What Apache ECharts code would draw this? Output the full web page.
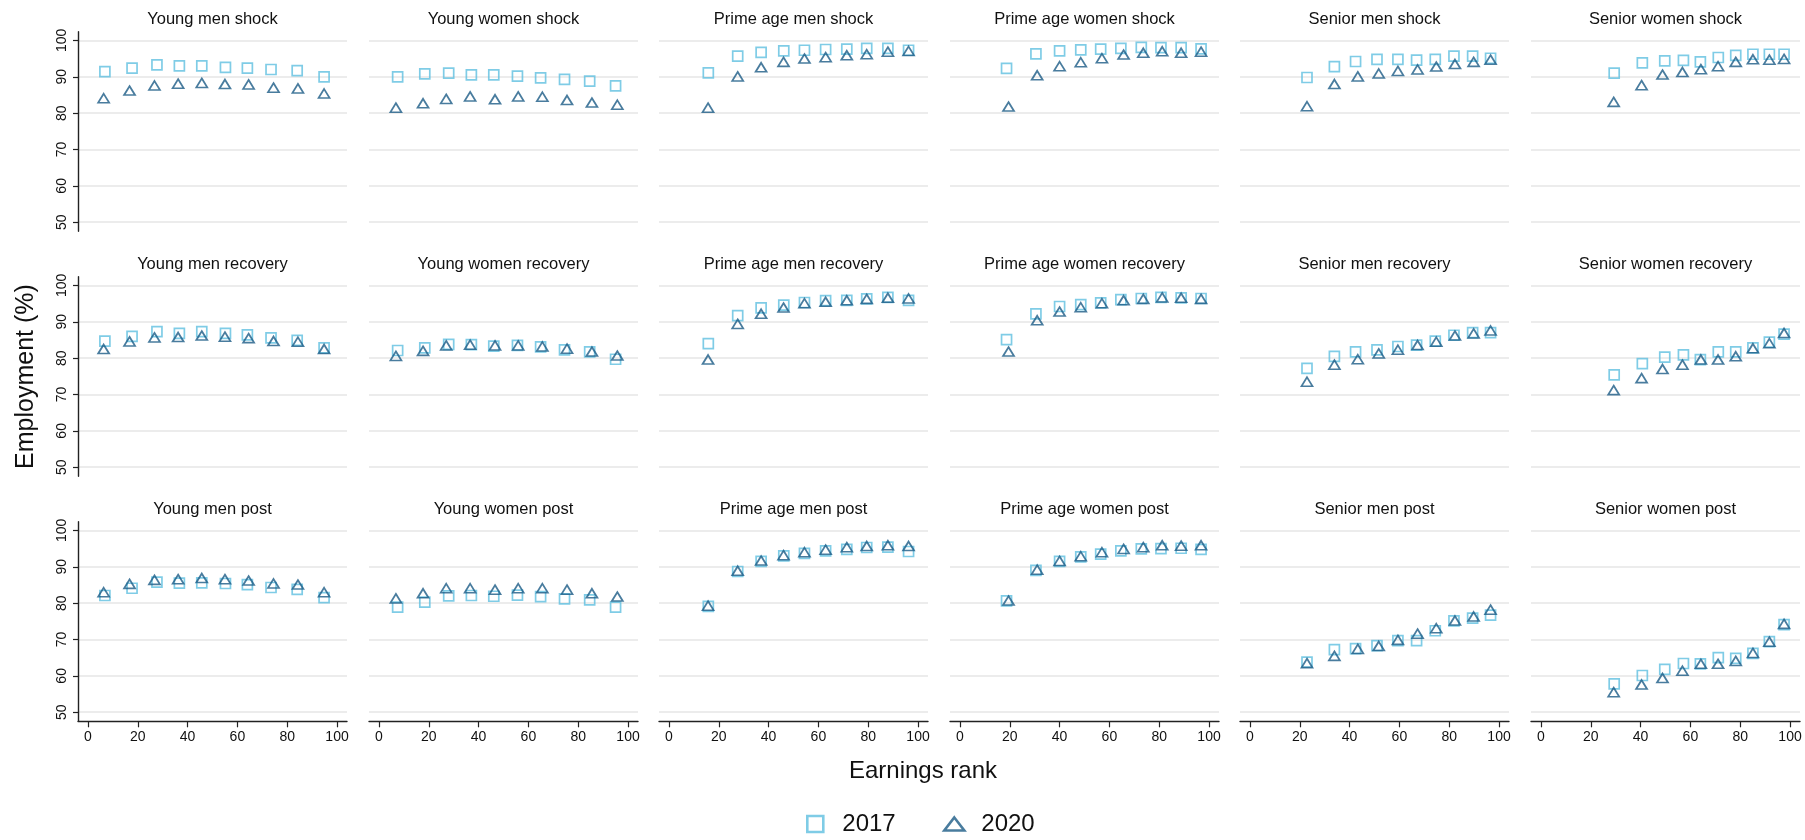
<!DOCTYPE html>
<html>
<head>
<meta charset="utf-8">
<title>Employment by earnings rank</title>
<script src="https://cdn.jsdelivr.net/npm/echarts@6/dist/echarts.min.js"></script>
<style>
  html, body { margin: 0; padding: 0; background: #ffffff; }
  #chart { width: 1805px; height: 840px; }
</style>
</head>
<body>
<div id="chart"></div>
<script>
// ---- Earnings rank (x) of each decile point, per group and year ----
const youngMenRank2017     = [6.8, 17.7, 27.7, 36.7, 45.7, 55.2, 64.0, 73.5, 84.0, 94.8];
const youngMenRank2020     = [6.3, 16.7, 26.7, 36.2, 45.7, 55.0, 64.5, 74.5, 84.3, 94.8];
const youngWomenRank2017   = [7.5, 18.4, 28.0, 37.1, 46.1, 55.6, 64.9, 74.5, 84.6, 95.0];
const youngWomenRank2020   = [6.8, 17.7, 27.0, 36.6, 46.6, 55.9, 65.6, 75.5, 85.5, 95.7];
const primeMenRank2017     = [15.8, 27.6, 37.0, 46.1, 54.4, 62.9, 71.4, 79.4, 87.9, 96.2];
const primeMenRank2020     = [15.7, 27.6, 37.0, 46.0, 54.4, 62.9, 71.4, 79.4, 87.9, 96.2];
const primeWomenRank2017   = [18.7, 30.5, 40.0, 48.5, 56.5, 64.6, 72.8, 80.7, 88.8, 96.8];
const primeWomenRank2020   = [19.5, 31.0, 40.0, 48.5, 57.0, 65.7, 73.6, 81.2, 88.8, 96.8];
const seniorMenRank2017    = [22.9, 33.9, 42.4, 51.0, 59.4, 66.9, 74.4, 81.9, 89.4, 96.6];
const seniorMenRank2020    = [22.9, 33.9, 43.3, 51.7, 59.4, 67.3, 74.8, 82.3, 89.8, 96.6];
const seniorWomenRank2017  = [29.4, 40.7, 49.7, 57.2, 64.0, 71.2, 78.2, 85.1, 91.7, 97.6];
const seniorWomenRank2020  = [29.2, 40.4, 48.8, 56.8, 64.2, 71.1, 78.2, 85.1, 91.7, 97.6];

// ---- Employment (%) : shock period ----
const youngMenShock2017    = [91.4, 92.4, 93.3, 93.0, 93.0, 92.6, 92.4, 92.0, 91.7, 90.0];
const youngMenShock2020    = [84.1, 86.2, 87.6, 88.1, 88.3, 88.0, 87.9, 87.0, 86.8, 85.4];
const youngWomenShock2017  = [90.0, 90.8, 91.0, 90.5, 90.5, 90.2, 89.7, 89.3, 88.8, 87.5];
const youngWomenShock2020  = [81.5, 82.7, 83.9, 84.6, 83.8, 84.6, 84.5, 83.6, 82.9, 82.3];
const primeMenShock2017    = [91.1, 95.7, 96.7, 97.1, 97.3, 97.5, 97.6, 97.8, 97.8, 97.3];
const primeMenShock2020    = [81.5, 90.1, 92.6, 94.1, 95.0, 95.4, 95.9, 96.2, 96.9, 97.1];
const primeWomenShock2017  = [92.3, 96.3, 97.1, 97.4, 97.6, 97.8, 98.1, 98.0, 98.0, 97.7];
const primeWomenShock2020  = [81.8, 90.4, 92.9, 94.0, 95.1, 96.1, 96.6, 97.0, 96.6, 96.9];
const seniorMenShock2017   = [89.8, 92.8, 94.2, 94.8, 94.8, 94.6, 94.8, 95.7, 95.7, 95.1];
const seniorMenShock2020   = [81.9, 88.0, 90.1, 90.9, 91.6, 92.0, 92.8, 93.5, 94.1, 94.7];
const seniorWomenShock2017 = [91.0, 93.8, 94.4, 94.5, 94.1, 95.3, 95.9, 96.2, 96.2, 96.2];
const seniorWomenShock2020 = [83.1, 87.7, 90.6, 91.3, 92.1, 92.9, 94.1, 94.8, 94.7, 94.9];

// ---- Employment (%) : recovery period ----
const youngMenRecovery2017    = [84.7, 86.0, 87.3, 86.8, 87.3, 86.8, 86.4, 85.6, 84.9, 82.8];
const youngMenRecovery2020    = [82.5, 84.6, 85.7, 85.8, 86.2, 85.9, 85.5, 84.7, 84.5, 82.5];
const youngWomenRecovery2017  = [82.1, 82.8, 83.8, 83.7, 83.3, 83.5, 83.1, 82.3, 81.7, 79.7];
const youngWomenRecovery2020  = [80.6, 82.0, 83.5, 83.7, 83.5, 83.5, 83.2, 82.6, 81.8, 80.7];
const primeMenRecovery2017    = [84.0, 91.7, 93.8, 94.6, 95.3, 95.8, 95.9, 96.3, 96.7, 95.9];
const primeMenRecovery2020    = [79.6, 89.4, 92.2, 93.9, 95.1, 95.5, 95.9, 96.3, 96.6, 96.4];
const primeWomenRecovery2017  = [85.1, 92.2, 94.2, 94.7, 95.2, 96.1, 96.4, 96.7, 96.6, 96.4];
const primeWomenRecovery2020  = [81.8, 90.4, 92.8, 94.0, 95.1, 95.9, 96.3, 96.7, 96.6, 96.3];
const seniorMenRecovery2017   = [77.2, 80.5, 81.7, 82.3, 83.2, 83.6, 84.7, 86.3, 87.0, 87.0];
const seniorMenRecovery2020   = [73.5, 78.2, 79.7, 81.3, 82.3, 83.6, 84.5, 86.2, 86.8, 87.6];
const seniorWomenRecovery2017 = [75.4, 78.5, 80.3, 80.9, 79.6, 81.7, 81.7, 82.8, 84.4, 86.6];
const seniorWomenRecovery2020 = [71.2, 74.5, 77.0, 78.2, 79.6, 79.6, 80.5, 82.7, 84.1, 86.9];

// ---- Employment (%) : post period ----
const youngMenPost2017    = [82.1, 84.1, 85.8, 85.5, 85.6, 85.4, 85.1, 84.3, 83.8, 81.5];
const youngMenPost2020    = [83.0, 85.3, 86.4, 86.6, 86.9, 86.6, 86.2, 85.4, 85.1, 83.0];
const youngWomenPost2017  = [78.9, 80.3, 82.0, 82.1, 81.9, 82.2, 81.8, 81.2, 80.9, 78.9];
const youngWomenPost2020  = [81.3, 82.7, 84.1, 84.1, 83.7, 84.1, 84.1, 83.7, 82.7, 81.8];
const primeMenPost2017    = [79.1, 88.7, 91.5, 93.0, 93.7, 94.4, 94.8, 95.3, 95.4, 94.2];
const primeMenPost2020    = [79.3, 88.9, 91.7, 93.2, 94.0, 94.7, 95.4, 95.7, 95.9, 95.7];
const primeWomenPost2017  = [80.6, 89.0, 91.5, 92.7, 93.5, 94.4, 94.9, 95.0, 95.1, 94.8];
const primeWomenPost2020  = [80.7, 89.2, 91.6, 92.9, 94.0, 94.9, 95.4, 95.9, 95.8, 95.9];
const seniorMenPost2017   = [63.8, 67.2, 67.5, 68.3, 69.7, 69.7, 72.4, 75.1, 75.9, 76.7];
const seniorMenPost2020   = [63.5, 65.5, 67.4, 68.2, 69.9, 71.6, 73.1, 75.2, 76.3, 78.2];
const seniorWomenPost2017 = [57.8, 60.1, 61.8, 63.4, 63.3, 65.0, 64.8, 66.2, 69.4, 74.1];
const seniorWomenPost2020 = [55.5, 57.6, 59.4, 61.4, 63.3, 63.3, 64.1, 66.3, 69.4, 74.3];

// ---- Labels and ticks ----
const groupNames  = ['Young men', 'Young women', 'Prime age men', 'Prime age women', 'Senior men', 'Senior women'];
const periodNames = ['shock', 'recovery', 'post'];
const yearNames   = ['2017', '2020'];
const xTickValues = [0, 20, 40, 60, 80, 100];
const yTickValues = [50, 60, 70, 80, 90, 100];
const xTitle = 'Earnings rank';
const yTitle = 'Employment (%)';

// Lookup tables assembled from the arrays above
const ranks = [
  [youngMenRank2017, youngMenRank2020],
  [youngWomenRank2017, youngWomenRank2020],
  [primeMenRank2017, primeMenRank2020],
  [primeWomenRank2017, primeWomenRank2020],
  [seniorMenRank2017, seniorMenRank2020],
  [seniorWomenRank2017, seniorWomenRank2020]
];
const values = [
  [ // shock
    [youngMenShock2017, youngMenShock2020], [youngWomenShock2017, youngWomenShock2020],
    [primeMenShock2017, primeMenShock2020], [primeWomenShock2017, primeWomenShock2020],
    [seniorMenShock2017, seniorMenShock2020], [seniorWomenShock2017, seniorWomenShock2020]
  ],
  [ // recovery
    [youngMenRecovery2017, youngMenRecovery2020], [youngWomenRecovery2017, youngWomenRecovery2020],
    [primeMenRecovery2017, primeMenRecovery2020], [primeWomenRecovery2017, primeWomenRecovery2020],
    [seniorMenRecovery2017, seniorMenRecovery2020], [seniorWomenRecovery2017, seniorWomenRecovery2020]
  ],
  [ // post
    [youngMenPost2017, youngMenPost2020], [youngWomenPost2017, youngWomenPost2020],
    [primeMenPost2017, primeMenPost2020], [primeWomenPost2017, primeWomenPost2020],
    [seniorMenPost2017, seniorMenPost2020], [seniorWomenPost2017, seniorWomenPost2020]
  ]
];

// ---- Styling / layout ----
const FONT = '"Liberation Sans", Arial, Helvetica, sans-serif';
const COLOR_2017 = '#5fbfe0';
const COLOR_2020 = '#1b5b86';
const INK = '#111111';
const AXIS_INK = '#222222';
const GRID_INK = '#e6e6e6';
const colLeft = [78, 369, 659, 950, 1240, 1531];
const rowTop = [31.7, 276.7, 521.7];
const panelW = 269;
const panelH = 199.6;
const X_MIN = -4, X_MAX = 104;
const Y_MIN = 47.5, Y_MAX = 102.4;

const grids = [], xAxes = [], yAxes = [], series = [], titles = [];

periodNames.forEach((period, r) => {
  groupNames.forEach((group, c) => {
    const idx = grids.length;
    const firstCol = c === 0;
    const lastRow = r === periodNames.length - 1;

    grids.push({ left: colLeft[c], top: rowTop[r], width: panelW, height: panelH, containLabel: false });

    xAxes.push({
      type: 'value', gridIndex: idx, min: X_MIN, max: X_MAX,
      axisLine: { show: lastRow, onZero: false, lineStyle: { color: AXIS_INK, width: 1.4 } },
      axisTick: { show: lastRow, length: 6, customValues: xTickValues, lineStyle: { color: AXIS_INK, width: 1.2 } },
      axisLabel: { show: lastRow, customValues: xTickValues, margin: 9, fontSize: 14, color: INK, fontFamily: FONT },
      splitLine: { show: false }
    });

    const yAxis = {
      type: 'value', gridIndex: idx, min: Y_MIN, max: Y_MAX,
      axisLine: { show: firstCol, onZero: false, lineStyle: { color: AXIS_INK, width: 1.4 } },
      axisTick: { show: firstCol, length: 5, customValues: yTickValues, lineStyle: { color: AXIS_INK, width: 1.2 } },
      axisLabel: { show: firstCol, customValues: yTickValues, rotate: 90, margin: 9, fontSize: 14, color: INK, fontFamily: FONT },
      splitLine: { show: true, lineStyle: { color: GRID_INK, width: 1.5 } }
    };
    if (firstCol && r === 1) {
      yAxis.name = yTitle;
      yAxis.nameLocation = 'middle';
      yAxis.nameRotate = 90;
      yAxis.nameGap = 39;
      yAxis.nameTextStyle = { fontSize: 25, color: INK, fontFamily: FONT };
    }
    yAxes.push(yAxis);

    titles.push({
      text: group + ' ' + period,
      left: colLeft[c] + panelW / 2, top: rowTop[r] - 21, textAlign: 'center', padding: 0,
      textStyle: { fontSize: 16.5, fontWeight: 'normal', color: INK, fontFamily: FONT }
    });

    yearNames.forEach((year, k) => {
      const xs = ranks[c][k];
      const ys = values[r][c][k];
      series.push({
        type: 'scatter', name: year, xAxisIndex: idx, yAxisIndex: idx,
        data: xs.map((x, i) => [x, ys[i]]),
        symbol: k === 0 ? 'rect' : 'triangle',
        symbolSize: k === 0 ? 10 : [11, 9],
        itemStyle: { color: 'rgba(255,255,255,0)', borderColor: k === 0 ? COLOR_2017 : COLOR_2020, borderWidth: 1.7 },
        emphasis: { disabled: true },
        z: 2 + k,
        silent: true
      });
    });
  });
});

titles.push({
  text: xTitle, left: 923, top: 759, textAlign: 'center', padding: 0,
  textStyle: { fontSize: 24, fontWeight: 'normal', color: INK, fontFamily: FONT }
});

const legendText = { fontSize: 24, color: INK, fontFamily: FONT };
const option = {
  backgroundColor: '#ffffff',
  animation: false,
  title: titles,
  grid: grids,
  xAxis: xAxes,
  yAxis: yAxes,
  series: series,
  legend: [
    {
      data: ['2017'], left: 806, top: 812, icon: 'rect', itemWidth: 16, itemHeight: 16,
      selectedMode: false, padding: 0,
      itemStyle: { color: 'rgba(255,255,255,0)', borderColor: COLOR_2017, borderWidth: 2.6 },
      textStyle: Object.assign({ padding: [0, 0, 0, 14] }, legendText)
    },
    {
      data: ['2020'], left: 943, top: 812, icon: 'triangle', itemWidth: 20, itemHeight: 13,
      selectedMode: false, padding: 0,
      itemStyle: { color: 'rgba(255,255,255,0)', borderColor: COLOR_2020, borderWidth: 2.6 },
      textStyle: Object.assign({ padding: [0, 0, 0, 12] }, legendText)
    }
  ]
};

const chart = echarts.init(document.getElementById('chart'), null, { renderer: 'canvas' });
chart.setOption(option);
</script>
</body>
</html>
